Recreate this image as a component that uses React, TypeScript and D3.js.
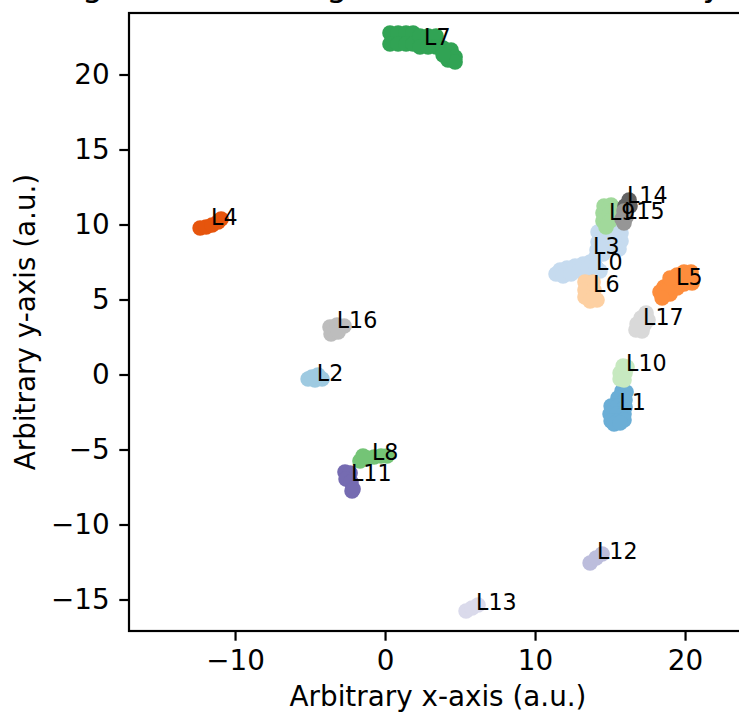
import * as d3 from "d3";
import React from "react";

// cluster names and colours (tab20c, sampled for 18 groups)
const clusterNames = ["L0", "L1", "L2", "L3", "L4", "L5", "L6", "L7", "L8", "L9", "L10", "L11", "L12", "L13", "L14", "L15", "L16", "L17"];
const clusterColours = [
  "#3182bd", "#6baed6", "#9ecae1", "#c6dbef",
  "#e6550d", "#fd8d3c", "#fdd0a2",
  "#31a354", "#74c476", "#a1d99b", "#c7e9c0",
  "#756bb1", "#bcbddc", "#dadaeb",
  "#636363", "#969696", "#bdbdbd", "#d9d9d9",
];

// points of each cluster, [x, y] in axis units
const L0 = [[14.07, 7.1], [13.53, 7.1]];
const L1 = [
  [15.8, -1.1], [16.07, -1.17], [15.53, -1.57], [16.0, -1.7], [15.07, -2.1], [15.53, -2.1], [16.0, -2.17],
  [15.0, -2.63], [15.47, -2.63], [15.93, -2.63], [15.07, -3.1], [15.53, -3.1], [15.93, -3.03], [15.27, -3.3], [15.67, -3.23],
];
const L2 = [[-5.13, -0.3], [-4.67, -0.37], [-4.2, -0.3], [-4.47, -0.03], [-4.87, -0.17]];
const L3 = [
  [14.2, 9.5], [14.73, 9.7], [15.27, 9.7], [15.73, 9.43], [15.73, 8.9], [15.27, 9.1], [14.73, 9.1],
  [14.2, 8.83], [14.13, 8.3], [14.67, 8.5], [15.2, 8.5], [15.6, 8.37], [14.53, 8.03], [14.07, 7.83],
  [13.67, 7.5], [13.2, 7.37], [12.67, 7.23], [12.13, 7.1], [11.67, 6.97], [11.4, 6.7], [11.87, 6.57],
  [12.4, 6.7], [12.93, 6.9], [13.53, 7.1], [14.07, 7.1], [14.33, 6.9],
];
const L4 = [[-12.33, 9.77], [-11.93, 9.83], [-11.53, 9.97], [-11.13, 10.17], [-10.93, 10.37]];
const L5 = [
  [18.6, 5.83], [18.6, 5.3], [19.0, 6.17], [19.0, 5.37], [19.47, 6.37], [19.47, 5.77], [19.93, 6.57],
  [19.93, 6.03], [20.4, 6.57], [20.47, 6.1], [18.33, 5.5], [18.8, 5.63], [19.73, 6.23], [20.2, 6.37],
  [19.93, 6.83], [20.4, 6.83], [19.47, 6.63], [19.0, 6.43], [18.47, 5.1],
];
const L6 = [[13.33, 6.17], [13.87, 6.17], [13.33, 5.63], [13.93, 5.63], [13.33, 5.17], [13.87, 5.1], [13.67, 4.9], [14.13, 4.97]];
const L7 = [
  [0.33, 22.77], [0.87, 22.77], [1.4, 22.77], [1.87, 22.77], [0.33, 22.03], [0.87, 22.03], [1.4, 22.03], [1.87, 22.03],
  [2.33, 22.57], [2.87, 22.57], [3.4, 22.57], [2.33, 21.83], [2.87, 21.83], [3.4, 21.83],
  [3.87, 21.77], [4.4, 21.63], [4.67, 21.17], [4.2, 20.97], [4.67, 20.83], [3.87, 21.3],
];
const L8 = [[-1.67, -5.77], [-1.2, -5.57], [-0.73, -5.5], [-0.27, -5.43], [0.13, -5.43], [-1.47, -5.43]];
const L9 = [[14.6, 11.23], [15.07, 11.3], [15.33, 11.03], [14.53, 10.77], [15.0, 10.77], [15.4, 10.63], [14.53, 10.23], [15.0, 10.23], [14.73, 9.83]];
const L10 = [[15.87, 0.57], [16.13, 0.5], [15.67, 0.1], [16.0, 0.1], [15.67, -0.3], [15.93, -0.37]];
const L11 = [[-2.67, -6.5], [-2.33, -6.57], [-2.6, -6.97], [-2.27, -7.17], [-2.13, -7.63], [-2.2, -7.77]];
const L12 = [[13.67, -12.57], [14.07, -12.23], [14.47, -11.97]];
const L13 = [[5.4, -15.77], [5.8, -15.57], [6.2, -15.37]];
const L14 = [[16.27, 11.63], [16.33, 11.23], [16.0, 11.23]];
const L15 = [[15.93, 10.9], [16.07, 10.5], [15.8, 10.37], [15.93, 10.1]];
const L16 = [[-3.67, 3.17], [-3.2, 3.3], [-2.73, 3.23], [-3.6, 2.7], [-3.13, 2.83]];
const L17 = [[17.4, 4.1], [17.07, 3.77], [17.53, 3.63], [16.8, 3.37], [17.27, 3.3], [16.73, 2.97], [17.13, 2.9]];
const clusterPoints = [L0, L1, L2, L3, L4, L5, L6, L7, L8, L9, L10, L11, L12, L13, L14, L15, L16, L17];

// cluster centres, where each label is written
const labelX = [14.07, 15.62, -4.55, 13.87, -11.6, 19.4, 13.87, 2.6, -0.87, 14.93, 16.07, -2.27, 14.13, 6.07, 16.13, 15.93, -3.22, 17.2];
const labelY = [6.97, -2.35, -0.45, 8.03, 9.97, 5.97, 5.5, 21.97, -5.7, 10.3, 0.23, -7.07, -12.3, -15.7, 11.43, 10.37, 3.1, 3.27];

const xTicks = [-10, 0, 10, 20];
const yTicks = [-15, -10, -5, 0, 5, 10, 15, 20];
const xLimits = [-17.07, 24.13];
const yLimits = [-17.1, 24.1];

const title = "Clustering of latent image features coloured by label";
const xLabel = "Arbitrary x-axis (a.u.)";
const yLabel = "Arbitrary y-axis (a.u.)";

export default function App() {
  const parentElement = React.useRef<SVGSVGElement>(null);

  React.useEffect(() => {
    const w = 739;
    const h = 716;
    const margin = { left: 129, top: 13 };
    const size = 618;
    const font = "DejaVu Sans, sans-serif";

    const svg = d3.select(parentElement.current);
    svg.selectAll("*").remove();
    svg.attr("width", w).attr("height", h);

    svg.append("rect").attr("width", w).attr("height", h).attr("fill", "white");

    const x = d3.scaleLinear().domain(xLimits).range([margin.left, margin.left + size]);
    const y = d3.scaleLinear().domain(yLimits).range([margin.top + size, margin.top]);

    // scatter points, one group per cluster
    clusterPoints.forEach((pts, i) => {
      svg
        .append("g")
        .selectAll("circle")
        .data(pts)
        .enter()
        .append("circle")
        .attr("cx", (d) => x(d[0]))
        .attr("cy", (d) => y(d[1]))
        .attr("r", 7.8)
        .attr("fill", clusterColours[i]);
    });

    // frame
    svg
      .append("rect")
      .attr("x", margin.left)
      .attr("y", margin.top)
      .attr("width", size)
      .attr("height", size)
      .attr("fill", "none")
      .attr("stroke", "black")
      .attr("stroke-width", 2.2);

    const fmt = (d: number) => (d < 0 ? "\u2212" + Math.abs(d) : String(d));

    // x axis
    const gx = svg
      .append("g")
      .attr("transform", `translate(0, ${margin.top + size})`)
      .call(d3.axisBottom(x).tickValues(xTicks).tickSize(9.7).tickPadding(9.7).tickFormat(fmt as any));
    gx.select(".domain").remove();

    // y axis
    const gy = svg
      .append("g")
      .attr("transform", `translate(${margin.left}, 0)`)
      .call(d3.axisLeft(y).tickValues(yTicks).tickSize(9.7).tickPadding(9.7).tickFormat(fmt as any));
    gy.select(".domain").remove();

    svg.selectAll(".tick line").attr("stroke", "black").attr("stroke-width", 2.2);
    svg
      .selectAll(".tick text")
      .attr("fill", "black")
      .style("font-family", font)
      .style("font-size", "27.8px");

    // cluster labels
    svg
      .append("g")
      .selectAll("text")
      .data(clusterNames)
      .enter()
      .append("text")
      .attr("x", (d, i) => x(labelX[i]))
      .attr("y", (d, i) => y(labelY[i]))
      .style("font-family", font)
      .style("font-size", "22.2px")
      .attr("fill", "black")
      .text((d) => d);

    // title (mostly above the visible area)
    svg
      .append("text")
      .attr("x", -66.6)
      .attr("y", -3.7)
      .style("font-family", font)
      .style("font-size", "33.3px")
      .attr("fill", "black")
      .text(title);

    // axis labels
    svg
      .append("text")
      .attr("x", margin.left + size / 2)
      .attr("y", 706)
      .attr("text-anchor", "middle")
      .style("font-family", font)
      .style("font-size", "27.8px")
      .attr("fill", "black")
      .text(xLabel);

    svg
      .append("text")
      .attr("transform", `translate(35, ${margin.top + size / 2}) rotate(-90)`)
      .attr("text-anchor", "middle")
      .style("font-family", font)
      .style("font-size", "27.8px")
      .attr("fill", "black")
      .text(yLabel);
  }, []);

  return (
    <div style={{ position: "absolute", left: 0, top: 0 }}>
      <svg ref={parentElement}></svg>
    </div>
  );
}
